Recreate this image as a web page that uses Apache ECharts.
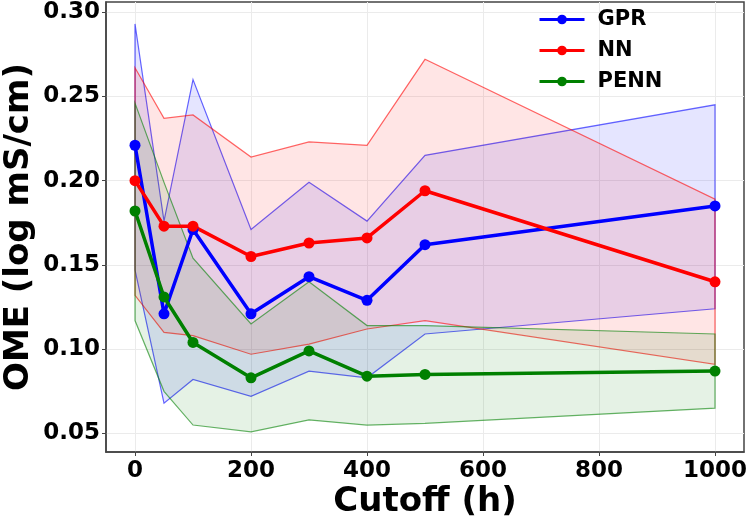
<!DOCTYPE html>
<html>
<head>
<meta charset="utf-8">
<script src="https://cdn.jsdelivr.net/npm/echarts@6/dist/echarts.min.js"></script>
<style>
  html, body { margin: 0; padding: 0; background: #fff; }
  #chart { width: 750px; height: 516px; }
</style>
</head>
<body>
<div id="chart"></div>
<script>
const cutoffs = [0, 50, 100, 200, 300, 400, 500, 1000];

const gprMean = [0.221, 0.121, 0.171, 0.121, 0.143, 0.129, 0.162, 0.185];
const gprUpper = [0.293, 0.176, 0.260, 0.171, 0.199, 0.176, 0.215, 0.245];
const gprLower = [0.147, 0.068, 0.082, 0.072, 0.087, 0.083, 0.109, 0.124];

const nnMean = [0.200, 0.173, 0.173, 0.155, 0.163, 0.166, 0.194, 0.140];
const nnUpper = [0.267, 0.237, 0.239, 0.214, 0.223, 0.221, 0.272, 0.189];
const nnLower = [0.132, 0.110, 0.108, 0.097, 0.103, 0.112, 0.117, 0.091];

const pennMean = [0.182, 0.131, 0.104, 0.083, 0.099, 0.084, 0.085, 0.087];
const pennUpper = [0.246, 0.199, 0.154, 0.115, 0.140, 0.114, 0.114, 0.109];
const pennLower = [0.117, 0.075, 0.055, 0.051, 0.058, 0.055, 0.056, 0.065];

const xTicks = [0, 200, 400, 600, 800, 1000];
const yTicks = [0.05, 0.10, 0.15, 0.20, 0.25, 0.30];

const FONT = "DejaVu Sans";

function pairs(ys) {
  return cutoffs.map((x, i) => [x, ys[i]]);
}

// fill_between style band: polygon along upper, back along lower
function band(name, lo, hi, fill, stroke) {
  return {
    name: name,
    type: "custom",
    silent: true,
    z: 1,
    data: [[cutoffs[0], lo[0]]],
    renderItem: function (params, api) {
      const pts = [];
      for (let i = 0; i < cutoffs.length; i++) pts.push(api.coord([cutoffs[i], hi[i]]));
      for (let i = cutoffs.length - 1; i >= 0; i--) pts.push(api.coord([cutoffs[i], lo[i]]));
      return {
        type: "polygon",
        shape: { points: pts },
        style: { fill: fill, stroke: stroke, lineWidth: 1.2 }
      };
    }
  };
}

function line(name, ys, color) {
  return {
    name: name,
    type: "line",
    z: 3,
    data: pairs(ys),
    symbol: "circle",
    symbolSize: 11,
    lineStyle: { color: color, width: 3.5 },
    itemStyle: { color: color },
    emphasis: { disabled: true }
  };
}

const chart = echarts.init(document.getElementById("chart"));

chart.setOption({
  animation: false,
  textStyle: { fontFamily: FONT },
  grid: {
    left: 106,
    right: 6,
    top: 2,
    bottom: 64,
    containLabel: false,
    outerBoundsMode: "none",
    show: true,
    borderColor: "#444",
    borderWidth: 1.5
  },
  legend: {
    data: ["GPR", "NN", "PENN"],
    orient: "vertical",
    left: 533,
    top: 4,
    itemWidth: 45,
    itemHeight: 12,
    itemGap: 10,
    lineStyle: { width: 3 },
    textStyle: {
      fontFamily: FONT,
      fontWeight: "bold",
      fontSize: 21,
      lineHeight: 21,
      color: "#000",
      padding: [0, 0, 0, 8]
    }
  },
  xAxis: {
    type: "value",
    min: -50,
    max: 1050,
    name: "Cutoff (h)",
    nameLocation: "middle",
    nameGap: 33,
    nameMoveOverlap: false,
    nameTextStyle: { fontFamily: FONT, fontWeight: "bold", fontSize: 34, color: "#000" },
    axisLine: { show: true, onZero: false, lineStyle: { color: "#444", width: 1.5 } },
    axisTick: { show: true, length: 4, customValues: xTicks, lineStyle: { color: "#444" } },
    axisLabel: {
      customValues: xTicks,
      margin: 8,
      fontFamily: FONT,
      fontWeight: "bold",
      fontSize: 23,
      color: "#000",
      formatter: v => String(v)
    },
    splitLine: { show: true, lineStyle: { color: "#ebebeb", width: 1 } }
  },
  yAxis: {
    type: "value",
    min: 0.039,
    max: 0.306,
    name: "OME (log mS/cm)",
    nameLocation: "middle",
    nameGap: 70,
    nameMoveOverlap: false,
    nameTextStyle: { fontFamily: FONT, fontWeight: "bold", fontSize: 34, color: "#000" },
    axisLine: { show: true, onZero: false, lineStyle: { color: "#444", width: 1.5 } },
    axisTick: { show: true, length: 4, customValues: yTicks, lineStyle: { color: "#444" } },
    axisLabel: {
      customValues: yTicks,
      margin: 6,
      fontFamily: FONT,
      fontWeight: "bold",
      fontSize: 23,
      color: "#000",
      formatter: v => v.toFixed(2)
    },
    splitLine: { show: true, lineStyle: { color: "#ebebeb", width: 1 } }
  },
  series: [
    band("GPR band", gprLower, gprUpper, "rgba(0,0,255,0.1)", "rgba(0,0,255,0.6)"),
    band("NN band", nnLower, nnUpper, "rgba(255,0,0,0.1)", "rgba(255,0,0,0.6)"),
    band("PENN band", pennLower, pennUpper, "rgba(0,128,0,0.1)", "rgba(0,128,0,0.6)"),
    line("GPR", gprMean, "#0000ff"),
    line("NN", nnMean, "#ff0000"),
    line("PENN", pennMean, "#008000")
  ]
});
</script>
</body>
</html>
